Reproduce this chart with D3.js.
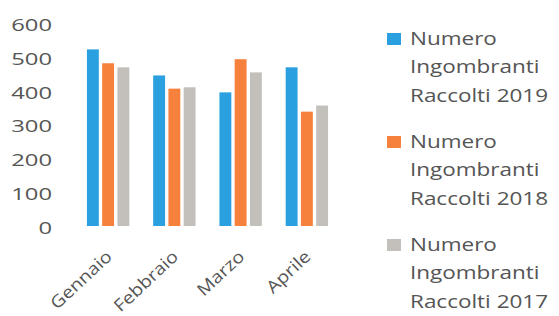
<!DOCTYPE html>
<html>
<head>
<meta charset="utf-8">
<script src="https://cdn.jsdelivr.net/npm/d3@7"></script>
<style>
  html, body { margin: 0; padding: 0; background: #fff; }
  svg { display: block; }
</style>
</head>
<body>
<svg id="chart" width="559" height="316"></svg>
<script>
// dati
const mesi = ['Gennaio', 'Febbraio', 'Marzo', 'Aprile'];
const serie = ['Numero Ingombranti Raccolti 2019', 'Numero Ingombranti Raccolti 2018', 'Numero Ingombranti Raccolti 2017'];
const val2019 = [522, 445, 395, 469];
const val2018 = [481, 406, 493, 338];
const val2017 = [469, 410, 454, 356];
const yTicks = [0, 100, 200, 300, 400, 500, 600];

const colori = ['#2aa0e0', '#f5813c', '#c3c0bb'];
const valori = [val2019, val2018, val2017];

const svg = d3.select('#chart');
const font = "'Open Sans', 'Noto Sans', sans-serif";
const testo = '#555';

const x = d3.scaleBand().domain(mesi).range([75, 340]).paddingInner(0.36).paddingOuter(0.18);
const xs = d3.scaleBand().domain(d3.range(serie.length)).range([0, x.bandwidth()]).paddingInner(0.22);
const y = d3.scaleLinear().domain([0, 600]).range([226, 23]);

// asse y (solo etichette, l'immagine è allargata in orizzontale)
svg.append('g')
  .attr('transform', 'translate(52,2)')
  .call(d3.axisLeft(y).tickValues(yTicks).tickSize(0).tickPadding(0))
  .call(g => g.select('.domain').remove())
  .selectAll('text')
  .attr('transform', 'scale(1.4,1)')
  .attr('font-family', font)
  .attr('font-size', 17)
  .attr('fill', testo);

// barre
const gruppi = svg.append('g').selectAll('g')
  .data(mesi)
  .join('g')
  .attr('transform', d => `translate(${x(d)},0)`);

gruppi.selectAll('rect')
  .data((d, i) => valori.map((v, s) => ({ s, v: v[i] })))
  .join('rect')
  .attr('x', d => xs(d.s))
  .attr('width', xs.bandwidth())
  .attr('y', d => y(d.v))
  .attr('height', d => y(0) - y(d.v))
  .attr('fill', d => colori[d.s]);

// etichette mesi ruotate
svg.append('g').selectAll('text')
  .data(mesi)
  .join('text')
  .attr('transform', d => `translate(${x(d) + x.bandwidth() / 2 + 5},258) rotate(-43) scale(1.15,1)`)
  .attr('text-anchor', 'end')
  .attr('font-family', font)
  .attr('font-size', 17)
  .attr('fill', testo)
  .text(d => d);

// legenda
const leg = svg.append('g').selectAll('g')
  .data(serie)
  .join('g')
  .attr('transform', (d, i) => `translate(387,${45 + i * 103})`);

leg.append('rect')
  .attr('width', 14).attr('height', 12)
  .attr('y', -12)
  .attr('fill', (d, i) => colori[i]);

leg.append('text')
  .attr('transform', 'translate(23,0) scale(1.25,1)')
  .attr('font-family', font)
  .attr('font-size', 18)
  .attr('fill', testo)
  .selectAll('tspan')
  .data(d => ['Numero', 'Ingombranti', d.replace('Numero Ingombranti ', '')])
  .join('tspan')
  .attr('x', 0)
  .attr('y', (d, i) => i * 28.5)
  .text(d => d);
</script>
</body>
</html>
